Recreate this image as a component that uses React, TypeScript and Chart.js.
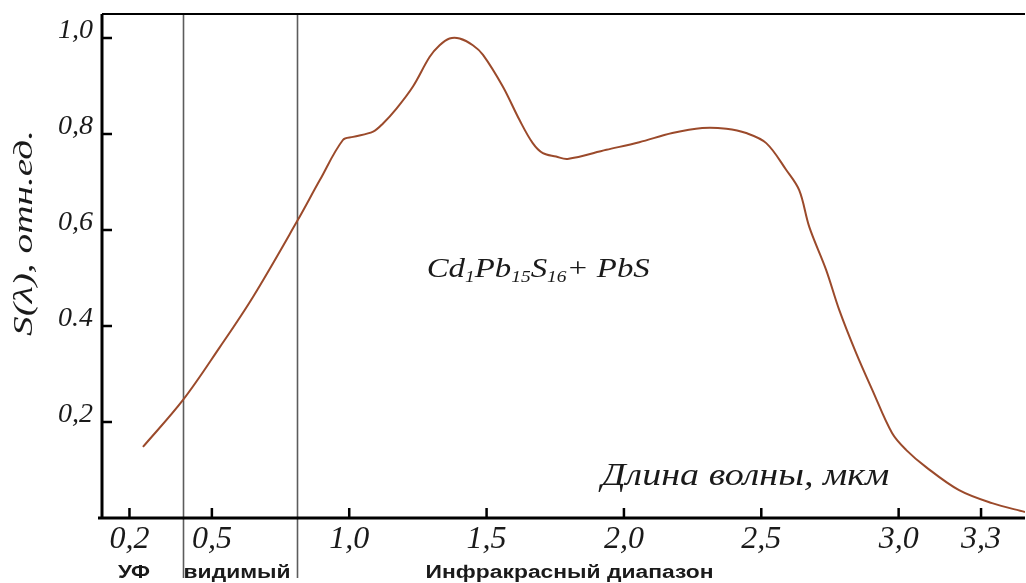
import React, { useEffect, useRef } from 'react';
import { Chart, registerables } from 'chart.js';

Chart.register(...registerables);

// Spectral sensitivity curve, wavelength in µm
const wavelength = [0.249, 0.395, 0.529, 0.649, 0.809, 0.893, 0.977, 1.014, 1.087, 1.123, 1.172, 1.232, 1.293, 1.329, 1.365, 1.402, 1.45, 1.487, 1.559, 1.62, 1.668, 1.705, 1.753, 1.795, 1.936, 2.056, 2.176, 2.285, 2.373, 2.445, 2.518, 2.591, 2.638, 2.675, 2.736, 2.784, 2.845, 2.904, 2.976, 3.027, 3.1, 3.22, 3.34, 3.46];
const sensitivity = [0.148, 0.246, 0.356, 0.46, 0.617, 0.704, 0.7875, 0.794, 0.805, 0.822, 0.853, 0.899, 0.961, 0.985, 0.999, 0.999, 0.985, 0.965, 0.899, 0.829, 0.781, 0.76, 0.753, 0.748, 0.767, 0.783, 0.802, 0.8125, 0.811, 0.802, 0.781, 0.725, 0.683, 0.606, 0.517, 0.433, 0.344, 0.267, 0.177, 0.142, 0.106, 0.058, 0.031, 0.0125];

const xTickValues = [0.2, 0.5, 1.0, 1.5, 2.0, 2.5, 3.0, 3.3];
const xTickLabels = ['0,2', '0,5', '1,0', '1,5', '2,0', '2,5', '3,0', '3,3'];
const yTickValues = [0.2, 0.4, 0.6, 0.8, 1.0];
const yTickLabels = ['0,2', '0.4', '0,6', '0,8', '1,0'];

// Spectral region boundaries and labels
const regionBounds = [0.395, 0.81];
const regionLabels = ['УФ', 'видимый', 'Инфракрасный диапазон'];
const regionLabelX = [0.158, 0.397, 1.278];

const yTitle = 'S(λ), отн.ед.';
const xTitle = 'Длина волны, мкм';

const SERIF = "'Liberation Serif', 'Times New Roman', serif";
const SANS = "'Liberation Sans', Arial, sans-serif";

type Part = { text: string; font: string; dy?: number };

function drawFitted(ctx: CanvasRenderingContext2D, parts: Part[], x: number, y: number, targetW: number) {
  const widths = parts.map((p) => {
    ctx.font = p.font;
    return ctx.measureText(p.text).width;
  });
  const total = widths.reduce((a, b) => a + b, 0);
  const sx = targetW / total;
  ctx.save();
  ctx.translate(x, y);
  ctx.scale(sx, 1);
  ctx.textAlign = 'left';
  ctx.textBaseline = 'alphabetic';
  let cx = 0;
  parts.forEach((p, i) => {
    ctx.font = p.font;
    ctx.fillText(p.text, cx, p.dy || 0);
    cx += widths[i];
  });
  ctx.restore();
}

export default function App() {
  const ref = useRef<HTMLCanvasElement>(null);

  useEffect(() => {
    const canvas = ref.current!;
    const H = 583;
    let cancelled = false;

    const decor = {
      id: 'decor',
      beforeDatasetsDraw(chart: any) {
        const { ctx, chartArea, scales } = chart;
        const { left, right, top, bottom } = chartArea;
        const x = scales.x;
        const y = scales.y;
        ctx.save();
        ctx.strokeStyle = '#5c5c5c';
        ctx.lineWidth = 1.6;
        regionBounds.forEach((v) => {
          const px = Math.round(x.getPixelForValue(v)) + 0.5;
          ctx.beginPath();
          ctx.moveTo(px, top);
          ctx.lineTo(px, H - 5);
          ctx.stroke();
        });
        ctx.strokeStyle = '#000';
        ctx.lineWidth = 2;
        ctx.beginPath();
        ctx.moveTo(left, top);
        ctx.lineTo(right, top);
        ctx.stroke();
        ctx.lineWidth = 3;
        ctx.beginPath();
        ctx.moveTo(left, top);
        ctx.lineTo(left, bottom);
        ctx.moveTo(left - 4, bottom);
        ctx.lineTo(right, bottom);
        ctx.stroke();
        ctx.lineWidth = 2.5;
        ctx.beginPath();
        y.ticks.forEach((t: any) => {
          const py = y.getPixelForValue(t.value);
          ctx.moveTo(left, py);
          ctx.lineTo(left + 10, py);
        });
        x.ticks.forEach((t: any) => {
          const px = x.getPixelForValue(t.value);
          ctx.moveTo(px, bottom);
          ctx.lineTo(px, bottom - 10);
        });
        ctx.stroke();
        ctx.restore();
      },
      afterDraw(chart: any) {
        const { ctx, scales } = chart;
        const x = scales.x;
        const y = scales.y;
        ctx.save();
        ctx.fillStyle = '#1a1a1a';

        ctx.save();
        ctx.translate(32, 336);
        ctx.rotate(-Math.PI / 2);
        drawFitted(ctx, [{ text: yTitle, font: `italic 28px ${SERIF}` }], 0, 0, 206);
        ctx.restore();

        const main = `italic 27px ${SERIF}`;
        const sub = `italic 16px ${SERIF}`;
        drawFitted(
          ctx,
          [
            { text: 'Cd', font: main },
            { text: '1', font: sub, dy: 5 },
            { text: 'Pb', font: main },
            { text: '15', font: sub, dy: 5 },
            { text: 'S', font: main },
            { text: '16', font: sub, dy: 5 },
            { text: '+ PbS', font: main },
          ],
          x.getPixelForValue(1.282),
          y.getPixelForValue(0.502),
          223
        );

        drawFitted(ctx, [{ text: xTitle, font: `italic 31px ${SERIF}` }], x.getPixelForValue(1.918), y.getPixelForValue(0.069), 288);

        const widths = [32, 107, 288];
        regionLabels.forEach((lbl, i) => {
          drawFitted(ctx, [{ text: lbl, font: `bold 18px ${SANS}` }], x.getPixelForValue(regionLabelX[i]), H - 5, widths[i]);
        });
        ctx.restore();
      },
    };

    const chart = new Chart(canvas, {
      type: 'line',
      data: {
        datasets: [
          {
            data: wavelength.map((w, i) => ({ x: w, y: sensitivity[i] })),
            borderColor: '#9b4a2b',
            borderWidth: 2,
            pointRadius: 0,
            tension: 0.35,
            fill: false,
          },
        ],
      },
      options: {
        responsive: false,
        animation: false,
        devicePixelRatio: 1,
        layout: { padding: { top: 14, right: 0, left: 0, bottom: 0 } },
        plugins: { legend: { display: false }, tooltip: { enabled: false } },
        scales: {
          x: {
            type: 'linear',
            min: 0.1,
            max: 3.46,
            grid: { display: false, drawTicks: false },
            border: { display: false },
            afterBuildTicks: (s: any) => {
              s.ticks = xTickValues.map((v) => ({ value: v }));
            },
            afterFit: (s: any) => {
              s.height = 65;
              s.paddingLeft = 0;
              s.paddingRight = 0;
            },
            ticks: {
              autoSkip: false,
              maxRotation: 0,
              minRotation: 0,
              padding: 2,
              color: '#1a1a1a',
              font: { family: SERIF, style: 'italic', size: 32 },
              callback: (_v: any, i: number) => xTickLabels[i],
            },
          },
          y: {
            type: 'linear',
            min: 0,
            max: 1.05,
            grid: { display: false, drawTicks: false },
            border: { display: false },
            afterBuildTicks: (s: any) => {
              s.ticks = yTickValues.map((v) => ({ value: v }));
            },
            afterFit: (s: any) => {
              s.width = 102;
              s.paddingTop = 0;
              s.paddingBottom = 0;
            },
            ticks: {
              autoSkip: false,
              padding: 9,
              labelOffset: -7,
              color: '#1a1a1a',
              font: { family: SERIF, style: 'italic', size: 28 },
              callback: (_v: any, i: number) => yTickLabels[i],
            },
          },
        },
      },
      plugins: [decor],
    } as any);

    const fonts = (document as any).fonts;
    if (fonts && fonts.load) {
      Promise.all([
        fonts.load(`italic 28px 'Liberation Serif'`),
        fonts.load(`bold 17px 'Liberation Sans'`),
      ])
        .catch(() => null)
        .then(() => {
          if (!cancelled) chart.update();
        });
    }

    return () => {
      cancelled = true;
      chart.destroy();
    };
  }, []);

  return (
    <div style={{ position: 'fixed', left: 0, top: 0, width: 1026, height: 583, background: '#fff' }}>
      <canvas ref={ref} width={1026} height={583} style={{ display: 'block', width: 1026, height: 583 }} />
    </div>
  );
}
